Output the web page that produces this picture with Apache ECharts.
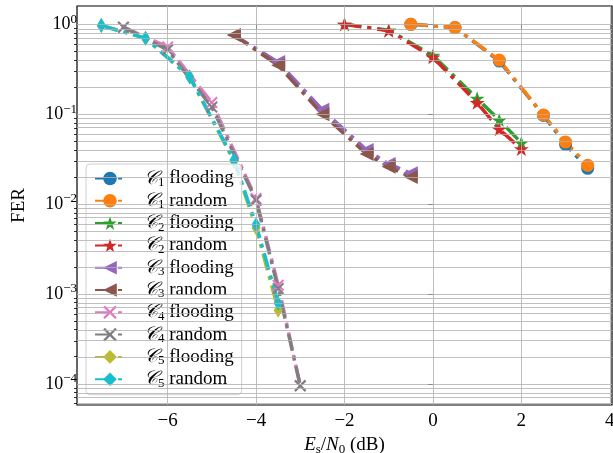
<!DOCTYPE html>
<html>
<head>
<meta charset="utf-8">
<script src="https://cdn.jsdelivr.net/npm/echarts@6/dist/echarts.min.js"></script>
<style>html,body{margin:0;background:#fff}#c{width:613px;height:453px}</style>
</head>
<body>
<div id="c"></div>
<script>
// ---- data (FER, linear values) ----
const xC1 = [-0.5, 0.5, 1.5, 2.5, 3.0, 3.5];
const c1Flooding = [1.0, 0.92, 0.39, 0.097, 0.046, 0.025];
const c1Random   = [1.0, 0.92, 0.40, 0.098, 0.049, 0.027];

const xC2 = [-2.0, -1.0, 0.0, 1.0, 1.5, 2.0];
const c2Flooding = [1.0, 0.86, 0.45, 0.15, 0.086, 0.048];
const c2Random   = [1.0, 0.85, 0.43, 0.134, 0.068, 0.041];

const xC3 = [-4.5, -3.5, -2.5, -1.5, -1.0, -0.5];
const c3Flooding = [0.76, 0.38, 0.112, 0.040, 0.028, 0.022];
const c3Random   = [0.76, 0.35, 0.100, 0.036, 0.026, 0.020];

const xC4 = [-7.0, -6.0, -5.0, -4.0, -3.5, -3.0];
const c4Flooding = [0.93, 0.56, 0.135, 0.0115, 0.00125, 0.000095];
const c4Random   = [0.93, 0.52, 0.120, 0.011, 0.00115, 0.000095];

const xC5 = [-7.5, -6.5, -5.5, -4.5, -4.0, -3.5];
const c5Flooding = [0.97, 0.70, 0.26, 0.030, 0.0054, 0.00066];
const c5Random   = [0.97, 0.70, 0.26, 0.031, 0.0059, 0.00079];

// ---- axes ----
const xTicks = [-6, -4, -2, 0, 2, 4];
const yDecades = [-4, -3, -2, -1, 0];
const yMinorMult = [2, 3, 4, 5, 6, 7, 8, 9];
const X_MIN = -8.05, X_MAX = 4.05, Y_MIN = -4.236, Y_MAX = 0.204;

const yMinor = [];
for (let e = -5; e <= 0; e++) {
  for (const k of yMinorMult) {
    const v = e + Math.log10(k);
    if (v > Y_MIN && v < Y_MAX) yMinor.push(v);
  }
}

const FONT = "Liberation Serif";
const FS = 19;
const DASH = [17, 6, 4, 6];

const SYM = {
  circle: "circle",
  star: "path://M50,0 L61.8,35.1 L98.9,35.1 L68.9,57 L80.3,92.7 L50,70.8 L19.7,92.7 L31.1,57 L1.1,35.1 L38.2,35.1 Z",
  triLeft: "path://M0,50 L100,0 L100,100 Z",
  xmark: "path://M0,12 L12,0 L50,38 L88,0 L100,12 L62,50 L100,88 L88,100 L50,62 L12,100 L0,88 L38,50 Z",
  thinDiamond: "path://M30,0 L60,50 L30,100 L0,50 Z"
};

function pts(xs, ys) {
  return xs.map((x, i) => [x, Math.log10(ys[i])]);
}

function mk(name, color, xs, ys, symbol, size) {
  return {
    name: name,
    type: "line",
    data: pts(xs, ys),
    symbol: symbol,
    symbolSize: size,
    symbolKeepAspect: false,
    showSymbol: true,
    color: color,
    itemStyle: { color: color, borderWidth: 0, opacity: 1 },
    lineStyle: { color: color, width: 3.5, type: DASH, cap: "butt" },
    emphasis: { disabled: true },
    animation: false,
    z: 3
  };
}

const seriesList = [
  mk("C1 flooding", "#1f77b4", xC1, c1Flooding, SYM.circle, 13),
  mk("C1 random",   "#ff7f0e", xC1, c1Random,   SYM.circle, 13),
  mk("C2 flooding", "#2ca02c", xC2, c2Flooding, SYM.star, [15, 14]),
  mk("C2 random",   "#d62728", xC2, c2Random,   SYM.star, [15, 14]),
  mk("C3 flooding", "#9467bd", xC3, c3Flooding, SYM.triLeft, [14, 14]),
  mk("C3 random",   "#8c564b", xC3, c3Random,   SYM.triLeft, [14, 14]),
  mk("C4 flooding", "#e377c2", xC4, c4Flooding, SYM.xmark, [12, 12]),
  mk("C4 random",   "#7f7f7f", xC4, c4Random,   SYM.xmark, [12, 12]),
  mk("C5 flooding", "#bcbd22", xC5, c5Flooding, SYM.thinDiamond, [9, 15]),
  mk("C5 random",   "#17becf", xC5, c5Random,   SYM.thinDiamond, [9, 15])
];

// grid lines (major + minor on y, major on x) drawn as a background series
const gridStyle = { color: "#b0b0b0", width: 0.8, type: "solid" };
const gridLines = []
  .concat(yDecades.map(v => ({ yAxis: v })))
  .concat(yMinor.map(v => ({ yAxis: v })))
  .concat(xTicks.map(v => ({ xAxis: v })));

seriesList.push({
  name: "grid",
  type: "line",
  data: [],
  z: 1,
  silent: true,
  animation: false,
  markLine: {
    silent: true,
    symbol: "none",
    label: { show: false },
    lineStyle: gridStyle,
    emphasis: { disabled: true },
    animation: false,
    data: gridLines
  }
});

const chart = echarts.init(document.getElementById("c"), null, { renderer: "canvas" });

chart.setOption({
  animation: false,
  backgroundColor: "#fff",
  textStyle: { fontFamily: FONT, color: "#000" },
  grid: {
    left: 77, right: 1, top: 6, bottom: 48,
    outerBoundsMode: "none",
    show: true, borderColor: "#000", borderWidth: 1.2, backgroundColor: "transparent",
    containLabel: false
  },
  legend: {
    data: seriesList.slice(0, 10).map(s => s.name),
    orient: "vertical",
    left: 86, top: 164,
    itemWidth: 30, itemHeight: 17, itemGap: 2.3,
    padding: [5, 8, 5, 8],
    backgroundColor: "rgba(255,255,255,0.8)",
    borderColor: "#d0d0d0", borderWidth: 1, borderRadius: 4,
    selectedMode: false,
    formatter: function (name) {
      const p = name.split(" ");
      return "{c|𝒞}{s|" + p[0].slice(1) + "} {t|" + p[1] + "}";
    },
    textStyle: {
      fontFamily: FONT, fontSize: FS, color: "#000", lineHeight: 17,
      rich: {
        c: { fontFamily: FONT, fontSize: FS, fontStyle: "italic", color: "#000", padding: [0, 0, 0, 14] },
        s: { fontFamily: FONT, fontSize: 13, color: "#000", padding: [8, 0, 0, 0] },
        t: { fontFamily: FONT, fontSize: FS, color: "#000" }
      }
    }
  },
  xAxis: {
    type: "value", min: X_MIN, max: X_MAX,
    name: "{i|E}{sb|s}{n|/}{i|N}{sb|0}{n| (dB)}",
    nameLocation: "middle", nameGap: 20,
    nameTextStyle: {
      fontFamily: FONT, fontSize: FS, color: "#000",
      rich: {
        i: { fontFamily: FONT, fontSize: FS, fontStyle: "italic" },
        sb: { fontFamily: FONT, fontSize: 13, padding: [8, 0, 0, 0] },
        n: { fontFamily: FONT, fontSize: FS }
      }
    },
    axisLine: { show: false },
    axisTick: { show: true, inside: false, length: 5, lineStyle: { color: "#000", width: 1 }, customValues: xTicks },
    axisLabel: {
      show: true, margin: 7, fontFamily: FONT, fontSize: FS, color: "#000",
      customValues: xTicks,
      formatter: v => (v < 0 ? "\u2212" + (-v) : String(v))
    },
    splitLine: { show: false }
  },
  yAxis: [
    {
      type: "value", min: Y_MIN, max: Y_MAX, position: "left", offset: 0,
      name: "FER", nameLocation: "middle", nameGap: 48, nameRotate: 90,
      nameTextStyle: { fontFamily: FONT, fontSize: FS, color: "#000" },
      axisLine: { show: false },
      axisTick: { show: true, inside: false, length: 5, lineStyle: { color: "#000", width: 1 }, customValues: yDecades },
      axisLabel: {
        show: true, margin: 0, customValues: yDecades,
        formatter: v => "{b|10}{e|" + (v === 0 ? "0" : "\u2212" + (-v)) + "}",
        rich: {
          b: { fontFamily: FONT, fontSize: 18, color: "#000" },
          e: { fontFamily: FONT, fontSize: 13, color: "#000", padding: [0, 0, 10, 0] }
        }
      },
      splitLine: { show: false }
    },
    {
      type: "value", min: Y_MIN, max: Y_MAX, position: "left", offset: 0,
      axisLine: { show: false },
      axisTick: { show: true, inside: false, length: 3, lineStyle: { color: "#000", width: 0.8 }, customValues: yMinor },
      axisLabel: { show: false },
      splitLine: { show: false }
    }
  ],
  series: seriesList
});
</script>
</body>
</html>
